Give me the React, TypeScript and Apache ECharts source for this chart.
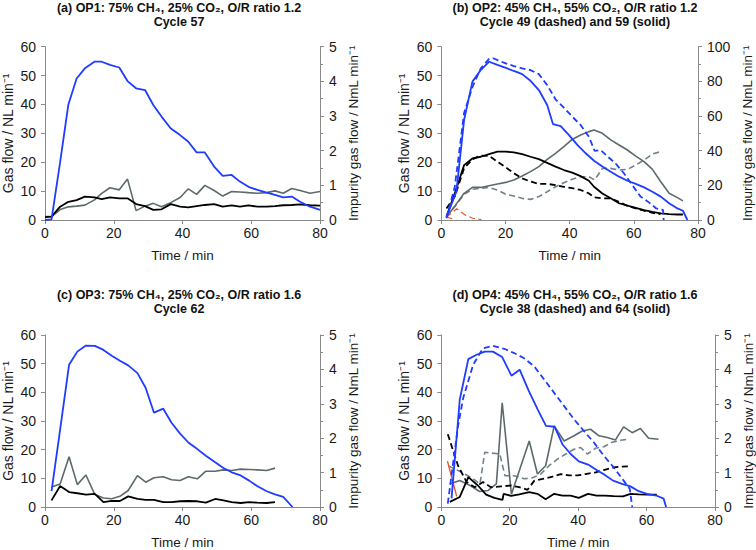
import React, { useEffect, useRef } from "react";
import * as echarts from "echarts";

// ---------- Panel (a) OP1, cycle 57 ----------
const aTime = [0, 1.9, 4.4, 6.8, 9.2, 11.6, 14.4, 16.5, 18.9, 21.6, 24.0, 26.5, 29.1, 31.5, 33.9, 36.6, 39.3, 41.7, 44.1, 46.5, 49.2, 51.7, 54.3, 56.7, 59.2, 61.8, 64.5, 66.9, 69.3, 71.8, 74.2, 77.1, 80];
const aBlue = [0, 0.2, 20, 40, 49, 52.5, 54.8, 54.8, 53.7, 52.8, 48.1, 45.6, 45, 39.8, 35.8, 31.7, 29.4, 27.1, 23.4, 23.4, 18.5, 15.3, 15.6, 13.3, 11.5, 10.4, 9.5, 8.7, 7.8, 8.1, 6.3, 4.6, 3.5];
const aBlack = [1, 1.2, 4.6, 6.3, 6.9, 8.1, 7.8, 7.2, 7.8, 7.5, 7.5, 5.5, 4.8, 3.5, 3.7, 5.5, 4.6, 4.4, 4.8, 5.2, 5.5, 4.6, 5.1, 4.6, 5.1, 4.6, 4.6, 4.8, 5.1, 5.2, 5.4, 5.1, 5.0];
const aGray = [0.1, 0.1, 0.3, 0.38, 0.4, 0.43, 0.58, 0.77, 0.93, 0.87, 1.18, 0.27, 0.4, 0.48, 0.38, 0.5, 0.65, 0.9, 0.74, 1.0, 0.85, 0.69, 0.82, 0.81, 0.79, 0.77, 0.79, 0.84, 0.77, 0.91, 0.85, 0.77, 0.82];

// ---------- Panel (b) OP2, cycles 49 (dashed) and 59 (solid) ----------
const bBlueSolidX = [1.6, 4.7, 7.1, 9.7, 12.3, 14.9, 17.5, 20.1, 22.6, 25.2, 27.8, 30.4, 33, 34.8, 37.2, 39.8, 42.4, 45, 47.6, 50.2, 52.8, 55.4, 58, 60.6, 63.2, 65.8, 68.4, 71, 73.6, 75.3, 76.7];
const bBlueSolid = [1, 9.8, 34.6, 47.9, 51.9, 54.8, 53.7, 52.7, 51.6, 50.5, 48.2, 45, 39.8, 33.2, 32.5, 29.4, 26, 23.1, 20.5, 18.5, 16.7, 15, 13.6, 12.5, 11.3, 9.8, 8.1, 5.8, 4, 3.2, 0];
const bBlueDashX = [1.6, 4.2, 7.1, 9.7, 12.3, 14.9, 16.1, 20.1, 22.6, 25.2, 27.8, 30.4, 33, 35.6, 38.2, 40.8, 43.4, 46, 47.8, 49.7, 51.9, 54.3, 56.9, 59.5, 62.1, 64.7, 67, 69.1, 69.3];
const bBlueDash = [0.6, 11.5, 37, 46, 52.5, 55.8, 56, 54.2, 53.3, 52.5, 51.9, 50.5, 46.7, 41.8, 38.9, 35.8, 32.9, 28.8, 23.9, 24.2, 21.9, 19.6, 16.2, 12.1, 8.1, 6.1, 4, 3.5, 0];
const bSolidX = [1.6, 4.2, 7.1, 9.7, 12.3, 14.9, 17.5, 20.1, 22.6, 25.2, 27.8, 30.4, 33, 35.6, 38.2, 40.8, 43.4, 46, 47.6, 50.2, 52.8, 55.4, 58, 60.6, 63.2, 65.8, 68.4, 71, 73.6, 75.3];
const bBlackSolid = [1.2, 9.2, 19, 21.3, 21.9, 22.8, 23.7, 23.7, 23.4, 22.8, 21.9, 21.1, 19.8, 18.5, 17.3, 16.4, 15.2, 13.6, 11.5, 9.2, 7.5, 5.8, 5.0, 4.2, 3.4, 2.8, 2.3, 2.0, 1.9, 1.9];
const bGraySolid = [1.9, 8, 15.4, 18.8, 18.8, 19.8, 20.8, 21.7, 23.1, 25.4, 27.9, 30.8, 35, 38.5, 42.3, 46.5, 49, 51, 51.9, 50, 46.2, 43.3, 40.4, 36.9, 33.7, 29.2, 22.1, 15.4, 12.9, 11];
const bDashX = [1.6, 4.2, 7.1, 9.7, 12.3, 14.9, 17.5, 20.1, 22.6, 25.2, 27.8, 30.4, 33, 35.6, 38.2, 40.8, 43.4, 46, 47.8, 50.2, 52.8, 55.4, 58, 60.6, 63.2, 65.8, 68.3];
const bBlackDash = [4, 8.1, 17.9, 21, 22.3, 22.2, 20.2, 18.2, 16.2, 14.4, 13.3, 12.5, 12.5, 12.1, 11.5, 11, 10.4, 9.2, 7.8, 7.5, 7.5, 6.3, 4.9, 4.0, 3.2, 2.5, 2.0];
const bGrayDash = [2.3, 7.7, 14.8, 17.7, 18.3, 18.8, 17.3, 14.8, 13.8, 12.5, 11.9, 13.5, 16.3, 19.2, 21.5, 23.5, 25, 25, 23.1, 29.8, 29.8, 28.8, 29.2, 31.7, 34.6, 38.1, 39.4];
const bOrange1X = [1.6, 4.8, 7.3, 9.8, 12.5];
const bOrange1 = [1.5, 6.5, 3, 1, 0.3];
const bOrange2X = [1.6, 4.2];
const bOrange2 = [1.8, 0.2];

// ---------- Panel (c) OP3, cycle 62 ----------
const cTime = [1.9, 4.4, 7.0, 9.4, 11.9, 14.5, 17.0, 19.4, 21.8, 24.2, 26.9, 29.3, 31.7, 34.4, 36.8, 39.3, 41.7, 44.3, 46.8, 49.5, 51.9, 54.3, 56.9, 59.4, 61.7, 64.5, 66.9];
const cBlueX = [...cTime, 69.3, 72];
const cBlue = [5.5, 27, 49.6, 54.2, 56.3, 56.2, 54.8, 52.8, 51, 49.4, 46.7, 41.5, 32.9, 34.3, 29.4, 25.6, 22.5, 20.2, 17.9, 15.6, 13.6, 12.1, 11, 9.2, 7.3, 5.5, 4.4, 3.5, 0];
const cBlack = [2.3, 7.3, 5.2, 4.8, 4.3, 4.6, 1.7, 2.1, 2.1, 3.7, 2.8, 2.5, 2.5, 1.7, 1.7, 2, 2.1, 2, 1.5, 2.8, 2.3, 1.7, 1.4, 1.7, 1.5, 1.4, 1.7];
const cGray = [0.58, 0.67, 1.46, 0.65, 0.93, 0.36, 0.26, 0.24, 0.31, 0.48, 0.91, 0.72, 0.85, 0.88, 0.79, 0.77, 0.88, 0.82, 1.04, 1.04, 1.08, 1.06, 1.1, 1.09, 1.08, 1.06, 1.13];

// ---------- Panel (d) OP4, cycles 38 (dashed) and 64 (solid) ----------
const dBlueSolidX = [3, 5.4, 7.9, 10.3, 12.7, 15.1, 17.8, 20.5, 22.9, 25.6, 28.2, 30.6, 33.1, 35.4, 37.8, 40.2, 42.9, 45.4, 47.8, 50.2, 52.8, 55.3, 57.7, 60.1, 62.8, 65, 65.7];
const dBlueSolid = [3, 37.5, 51.6, 53.1, 54.2, 54.2, 52.3, 45.8, 47.9, 40.4, 34, 28.3, 28, 21.9, 18.5, 15.9, 14.8, 12.9, 11.2, 9.2, 8.1, 7.2, 5.5, 4.6, 4, 2.9, 0];
const dBlueDashX = [1.9, 4.9, 6.4, 9.3, 12.2, 15.1, 18.4, 21.3, 24.2, 27.2, 30.1, 33, 35.9, 38.8, 41.7, 44.6, 47.5, 50.4, 53.3, 55.1, 55.8];
const dBlueDash = [1.2, 28.3, 38, 49.6, 55.4, 56.2, 55.2, 53.7, 51.9, 49, 44.4, 39.8, 35.2, 30.6, 26.5, 22.5, 17.9, 13.8, 9.2, 6.3, 0];
const dBlackSolidX = [2.5, 5.4, 7.9, 10.7, 13.1, 15.5, 17.9, 18.2, 20.4, 22.8, 25.7, 28.1, 30.5, 33, 35.4, 37.8, 40.2, 42.9, 45.4, 47.8, 50.4, 53.1, 55.3, 57.7, 60.1, 63];
const dBlackSolid = [1.8, 3.5, 10.4, 7.5, 4.3, 3.2, 2.5, 4.6, 3.9, 4.4, 5.2, 4.6, 2.7, 4.6, 4, 4, 3.2, 4.6, 4, 4, 3.8, 3.7, 4.6, 4.4, 4.3, 4.3];
const dBlackDashX = [1.9, 4.9, 7.4, 9.8, 12.2, 14.5, 17.5, 20.4, 22.8, 25.2, 27.2, 29.6, 32.5, 34.9, 37.3, 39.8, 42.2, 45.1, 47.5, 50.4, 52.8, 54.8];
const dBlackDash = [25.4, 14.4, 8.7, 6.9, 8.7, 6.9, 7.2, 7.5, 6.9, 6, 9.2, 9.8, 10.6, 11.5, 11, 11, 11.5, 12.1, 12.9, 13.8, 14.1, 14.2];
const dGraySolidX = [2.5, 5.4, 8.3, 11.2, 13.7, 16.1, 17.8, 20.5, 25.7, 28.1, 30.5, 33, 35.9, 38.8, 41.2, 43.6, 46.1, 48.5, 50.9, 53.3, 55.8, 58.2, 60.6, 63.5];
const dGraySolid = [0.67, 0.77, 0.63, 0.45, 0.48, 0.67, 3.03, 0.37, 1.92, 0.96, 1.2, 2.36, 1.92, 2.07, 2.21, 2.26, 2.07, 2.02, 1.95, 2.33, 2.16, 2.28, 2.0, 1.97];
const dGrayDashX = [2.0, 5.9, 9.3, 11.3, 12.7, 17.1, 18.6, 21.3, 24.2, 26.7, 29.1, 31.5, 33.9, 36.4, 38.8, 40.7, 42.7, 45.1, 47.5, 49.9, 52.4, 54.8];
const dGrayDash = [1.2, 1.01, 0.82, 0.67, 1.59, 1.54, 0.91, 0.91, 0.82, 0.85, 0.96, 1.2, 1.39, 1.54, 1.68, 1.73, 1.54, 1.71, 1.75, 1.88, 1.94, 1.97];
const dOrangeX = [1.8, 4.5];
const dOrange = [16, 3.7];

// ---------- Texts ----------
const titles = [
  "(a) OP1: 75% CH₄, 25% CO₂, O/R ratio 1.2\nCycle 57",
  "(b) OP2: 45% CH₄, 55% CO₂, O/R ratio 1.2\nCycle 49 (dashed) and 59 (solid)",
  "(c) OP3: 75% CH₄, 25% CO₂, O/R ratio 1.6\nCycle 62",
  "(d) OP4: 45% CH₄, 55% CO₂, O/R ratio 1.6\nCycle 38 (dashed) and 64 (solid)",
];
const xName = "Time / min";
const leftName = "Gas flow / NL min⁻¹";
const rightName = "Impurity gas flow / NmL min⁻¹";
const rightMax = [5, 100, 5, 5];
const rightInterval = [1, 20, 1, 1];

const FONT = "'Liberation Sans', Arial, Helvetica, sans-serif";
const BLUE = "#1f3cff";
const BLACK = "#000000";
const GRAY = "#5c6a6c";
const GRAY_D = "#71818a";
const ORANGE = "#e4572e";
const AXIS = "#8a8a8a";

const zip = (xs: number[], ys: number[]) => ys.map((y, i) => [xs[i], y]);

export default function App() {
  const ref = useRef<HTMLDivElement>(null);
  useEffect(() => {
    if (!ref.current) return;
    const chart = echarts.init(ref.current, undefined, { renderer: "svg" });

    const grids = [
      { left: 45, top: 46.7, width: 275, height: 173.3 },
      { left: 441.3, top: 46.7, width: 256.7, height: 173.3 },
      { left: 45, top: 335, width: 275, height: 173.3 },
      { left: 441.3, top: 335, width: 275, height: 173.3 },
    ];
    const titlePos = [
      { x: 179, y: 0.5 },
      { x: 575, y: 0.5 },
      { x: 179, y: 288 },
      { x: 575, y: 288 },
    ];

    const axisLine = { show: true, lineStyle: { color: AXIS, width: 1 } };
    const labelStyle = { color: "#1a1a1a", fontSize: 14, fontFamily: FONT };
    const nameStyle = { color: "#1a1a1a", fontSize: 13.5, fontFamily: FONT };

    const xAxis = grids.map((_, i) => ({
      type: "value",
      gridIndex: i,
      min: 0,
      max: 80,
      interval: 20,
      axisLine: { ...axisLine, onZero: false },
      axisTick: { show: true, inside: false, length: 4, lineStyle: { color: AXIS } },
      axisLabel: { ...labelStyle, margin: 6 },
      splitLine: { show: false },
      name: xName,
      nameLocation: "middle",
      nameGap: 28,
      nameTextStyle: nameStyle,
    }));

    const yAxis: any[] = [];
    grids.forEach((_, i) => {
      yAxis.push({
        type: "value",
        gridIndex: i,
        position: "left",
        min: 0,
        max: 60,
        interval: 10,
        axisLine: axisLine,
        axisTick: { show: true, inside: false, length: 4, lineStyle: { color: AXIS } },
        axisLabel: { ...labelStyle, margin: 9 },
        splitLine: { show: false },
        name: leftName,
        nameLocation: "middle",
        nameGap: 30,
        nameTextStyle: { ...nameStyle, fontSize: 14 },
      });
      yAxis.push({
        type: "value",
        gridIndex: i,
        position: "right",
        min: 0,
        max: rightMax[i],
        interval: rightInterval[i],
        axisLine: axisLine,
        axisTick: { show: true, inside: false, length: 4, lineStyle: { color: AXIS } },
        minorTick: { show: true, splitNumber: 2, length: 3, lineStyle: { color: AXIS } },
        axisLabel: { ...labelStyle, margin: 9 },
        splitLine: { show: false },
        minorSplitLine: { show: false },
        name: rightName,
        nameLocation: "middle",
        nameGap: rightMax[i] === 100 ? 42 : 26,
        nameRotate: 90,
        nameTextStyle: nameStyle,
      });
    });

    const line = (
      grid: number,
      right: boolean,
      data: number[][],
      color: string,
      width: number,
      dashed: boolean
    ) => ({
      type: "line",
      xAxisIndex: grid,
      yAxisIndex: grid * 2 + (right ? 1 : 0),
      data,
      showSymbol: false,
      symbol: "none",
      lineStyle: { color, width, type: dashed ? [6, 3.5] : "solid" },
      z: 2,
    });

    const series = [
      // (a)
      line(0, true, zip(aTime, aGray), GRAY, 1.6, false),
      line(0, false, zip(aTime, aBlack), BLACK, 1.8, false),
      line(0, false, zip(aTime, aBlue), BLUE, 1.8, false),
      // (b)
      line(1, true, zip(bOrange1X, bOrange1), ORANGE, 1.2, true),
      line(1, true, zip(bOrange2X, bOrange2), ORANGE, 1.2, true),
      line(1, true, zip(bDashX, bGrayDash), GRAY_D, 1.6, true),
      line(1, true, zip(bSolidX, bGraySolid), GRAY, 1.6, false),
      line(1, false, zip(bDashX, bBlackDash), BLACK, 1.8, true),
      line(1, false, zip(bSolidX, bBlackSolid), BLACK, 1.8, false),
      line(1, false, zip(bBlueDashX, bBlueDash), BLUE, 1.8, true),
      line(1, false, zip(bBlueSolidX, bBlueSolid), BLUE, 1.8, false),
      // (c)
      line(2, true, zip(cTime, cGray), GRAY, 1.6, false),
      line(2, false, zip(cTime, cBlack), BLACK, 1.8, false),
      line(2, false, zip(cBlueX, cBlue), BLUE, 1.8, false),
      // (d)
      line(3, true, zip(dGrayDashX, dGrayDash), GRAY_D, 1.6, true),
      line(3, true, zip(dGraySolidX, dGraySolid), GRAY, 1.6, false),
      line(3, false, zip(dBlackDashX, dBlackDash), BLACK, 1.8, true),
      line(3, false, zip(dBlackSolidX, dBlackSolid), BLACK, 1.8, false),
      line(3, false, zip(dOrangeX, dOrange), ORANGE, 1.4, false),
      line(3, false, zip(dBlueDashX, dBlueDash), BLUE, 1.8, true),
      line(3, false, zip(dBlueSolidX, dBlueSolid), BLUE, 1.8, false),
    ];

    const graphic = titles.map((t, i) => ({
      type: "text",
      x: titlePos[i].x,
      y: titlePos[i].y,
      style: {
        text: t,
        fill: "#111",
        font: `bold 12.5px ${FONT}`,
        align: "center",
        verticalAlign: "top",
        lineHeight: 14,
      },
    }));

    chart.setOption({
      animation: false,
      backgroundColor: "#ffffff",
      grid: grids.map((g) => ({ ...g, containLabel: false })),
      xAxis,
      yAxis,
      series,
      graphic,
    } as any);

    return () => chart.dispose();
  }, []);

  return (
    <div
      ref={ref}
      style={{ position: "absolute", left: 0, top: 0, width: 756, height: 550 }}
    />
  );
}
